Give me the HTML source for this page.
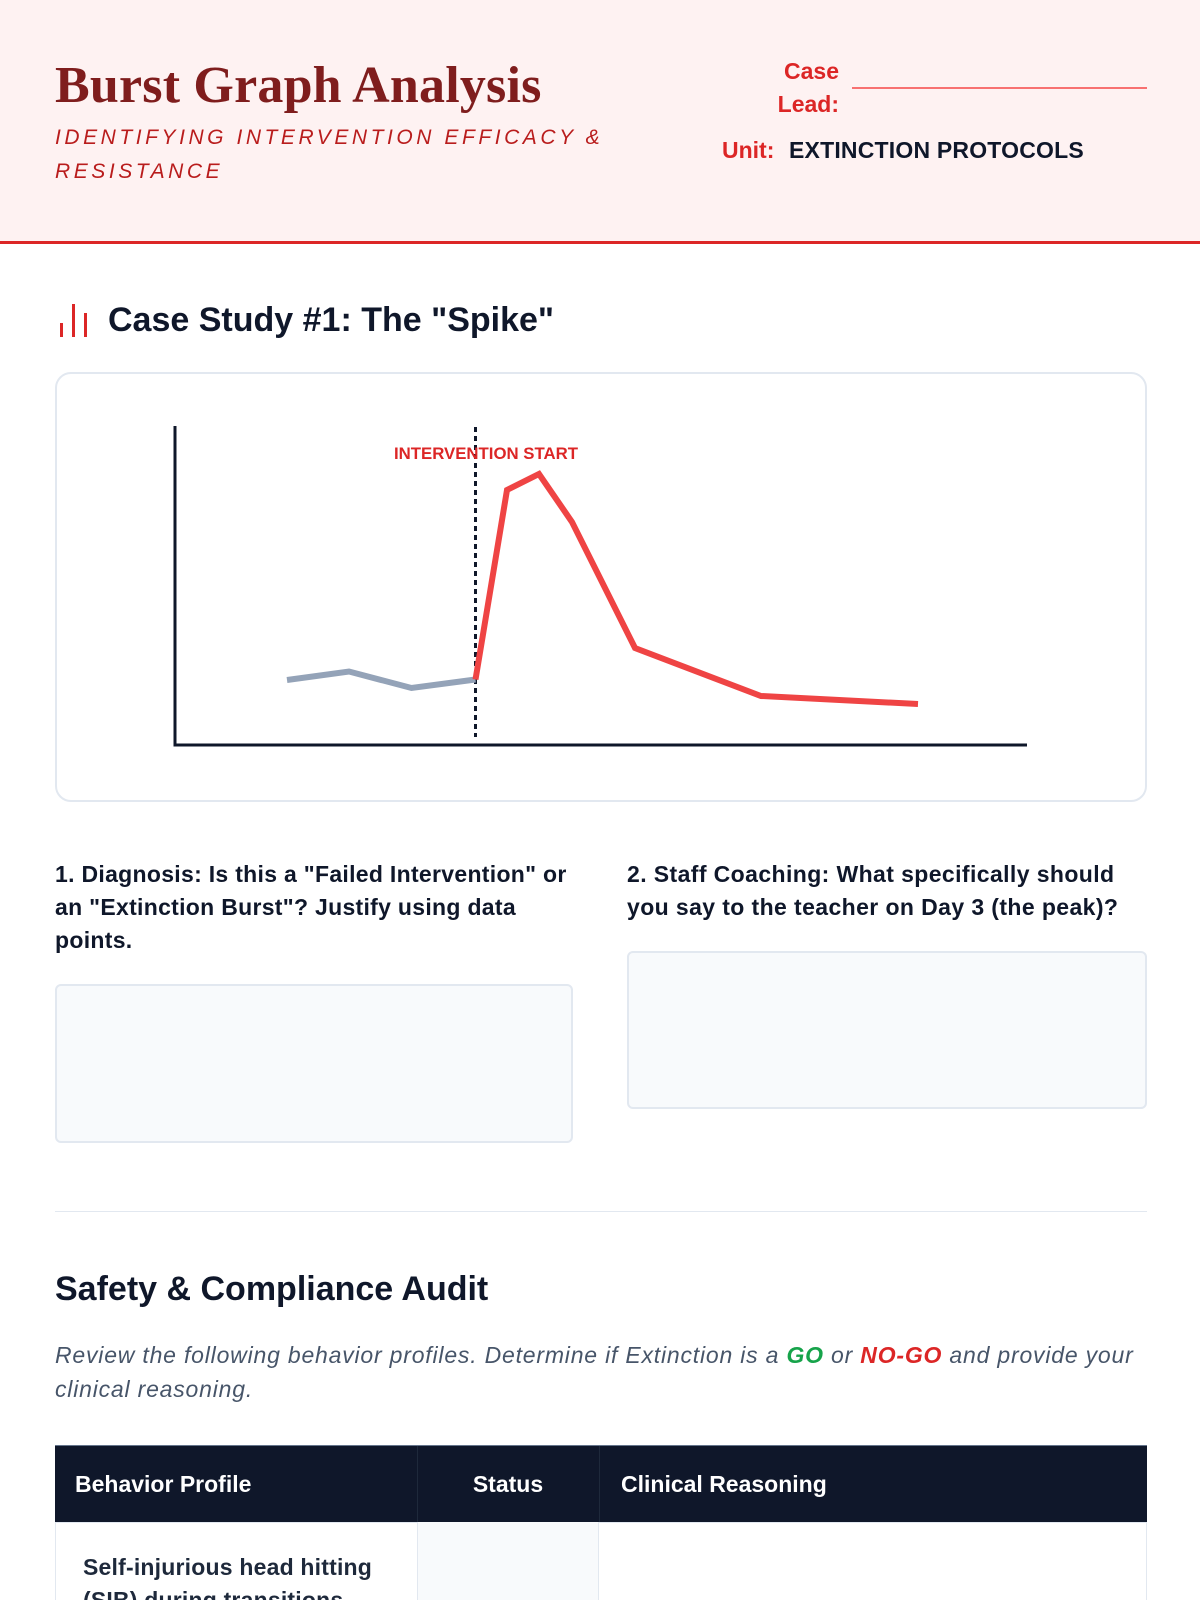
<!DOCTYPE html>
<html><head><meta charset="utf-8">
<style>
*{margin:0;padding:0;box-sizing:border-box}
html,body{width:1200px;height:1600px;overflow:hidden;background:#fff}
body{position:relative;font-family:"Liberation Sans",Arial,sans-serif;color:#0f172a}
.a{position:absolute;white-space:nowrap}
</style></head><body>

<!-- Header -->
<div class="a" style="left:0;top:0;width:1200px;height:241px;background:#fef2f2"></div>
<div class="a" style="left:0;top:241px;width:1200px;height:3px;background:#dc2626"></div>
<div class="a" style="left:55px;top:56px;font-family:'Liberation Serif',serif;font-weight:700;font-size:52px;line-height:60px;color:#7f1d1d;letter-spacing:0.2px">Burst Graph Analysis</div>
<div class="a" style="left:55px;top:121px;font-size:21px;line-height:33.5px;font-style:italic;letter-spacing:3.55px;color:#b91c1c">IDENTIFYING INTERVENTION EFFICACY &amp;<br>RESISTANCE</div>

<div class="a" style="left:739px;top:55px;width:100px;text-align:right;font-size:23px;line-height:32.5px;font-weight:700;color:#dc2626">Case<br>Lead:</div>
<div class="a" style="left:852px;top:86.5px;width:295px;height:2px;background:#f87171"></div>
<div class="a" style="left:722px;top:135px;font-size:23px;line-height:30px;font-weight:700;color:#dc2626">Unit:</div>
<div class="a" style="left:789px;top:135px;font-size:23px;line-height:30px;font-weight:700;color:#0f172a;letter-spacing:0.2px">EXTINCTION PROTOCOLS</div>

<!-- Case study heading -->
<div class="a" style="left:59.5px;top:323px;width:3px;height:14px;background:#dc2626"></div>
<div class="a" style="left:71.5px;top:304px;width:3px;height:33px;background:#dc2626"></div>
<div class="a" style="left:83.5px;top:313px;width:3px;height:24px;background:#dc2626"></div>
<div class="a" style="left:108px;top:300px;font-size:34px;line-height:40px;font-weight:700;color:#0f172a">Case Study #1: The "Spike"</div>

<!-- Chart card -->
<div class="a" style="left:55px;top:372px;width:1092px;height:430px;border:2px solid #e2e8f0;border-radius:16px;background:#fff"></div>

<svg class="a" style="left:0;top:0" width="1200" height="1600" viewBox="0 0 1200 1600">
  <path d="M175 426 V745 H1027" fill="none" stroke="#0f172a" stroke-width="3"/>
  <line x1="475.5" y1="427" x2="475.5" y2="737" stroke="#0f172a" stroke-width="3" stroke-dasharray="5,4"/>
  <polyline points="287,680 349,671.5 411.5,688 475.5,679.5" fill="none" stroke="#94a3b8" stroke-width="6"/>
  <polyline points="475.5,679.5 507,490 539,474 572,522 635,648 761,696 918,704" fill="none" stroke="#ef4444" stroke-width="6"/>
  <text x="486" y="459" text-anchor="middle" font-family="Liberation Sans, Arial, sans-serif" font-weight="700" font-size="17" fill="#dc2626" textLength="184" lengthAdjust="spacingAndGlyphs">INTERVENTION START</text>
</svg>

<!-- Questions -->
<div class="a" style="left:55px;top:857.5px;font-size:23px;line-height:33px;font-weight:700;color:#0f172a;letter-spacing:0.3px">1. Diagnosis: Is this a "Failed Intervention" or<br>an "Extinction Burst"? Justify using data<br>points.</div>
<div class="a" style="left:55px;top:984px;width:518px;height:159px;background:#f8fafc;border:2px solid #e2e8f0;border-radius:6px"></div>

<div class="a" style="left:627px;top:857.5px;font-size:23px;line-height:33px;font-weight:700;color:#0f172a;letter-spacing:0.4px">2. Staff Coaching: What specifically should<br>you say to the teacher on Day 3 (the peak)?</div>
<div class="a" style="left:627px;top:951px;width:520px;height:158px;background:#f8fafc;border:2px solid #e2e8f0;border-radius:6px"></div>

<!-- Divider -->
<div class="a" style="left:55px;top:1211px;width:1092px;height:1px;background:#e2e8f0"></div>

<!-- Safety section -->
<div class="a" style="left:55px;top:1269px;font-size:34px;line-height:40px;font-weight:700;color:#0f172a">Safety &amp; Compliance Audit</div>
<div class="a" style="left:55px;top:1338px;font-size:23px;line-height:34px;font-style:italic;color:#475569;letter-spacing:0.8px">Review the following behavior profiles. Determine if Extinction is a <b style="color:#16a34a">GO</b> or <b style="color:#dc2626">NO-GO</b> and provide your<br>clinical reasoning.</div>

<!-- Table -->
<div class="a" style="left:55px;top:1522px;width:1092px;height:90px;border:1px solid #e2e8f0;background:#fff"></div>
<div class="a" style="left:417px;top:1522px;width:182px;height:90px;background:#f8fafc;border-left:1px solid #e2e8f0;border-right:1px solid #e2e8f0"></div>
<div class="a" style="left:55px;top:1445px;width:1092px;height:77px;background:#0f172a;border-top:1px solid #64748b"></div>
<div class="a" style="left:417px;top:1446px;width:1px;height:76px;background:#1e293b"></div>
<div class="a" style="left:599px;top:1446px;width:1px;height:76px;background:#1e293b"></div>
<div class="a" style="left:75px;top:1469px;font-size:23px;line-height:30px;font-weight:700;color:#fff">Behavior Profile</div>
<div class="a" style="left:417px;top:1469px;width:182px;text-align:center;font-size:23px;line-height:30px;font-weight:700;color:#fff">Status</div>
<div class="a" style="left:621px;top:1469px;font-size:23px;line-height:30px;font-weight:700;color:#fff">Clinical Reasoning</div>
<div class="a" style="left:83px;top:1550.5px;font-size:23px;line-height:33px;font-weight:700;color:#1e293b;letter-spacing:0.2px">Self-injurious head hitting<br>(SIB) during transitions</div>

</body></html>
